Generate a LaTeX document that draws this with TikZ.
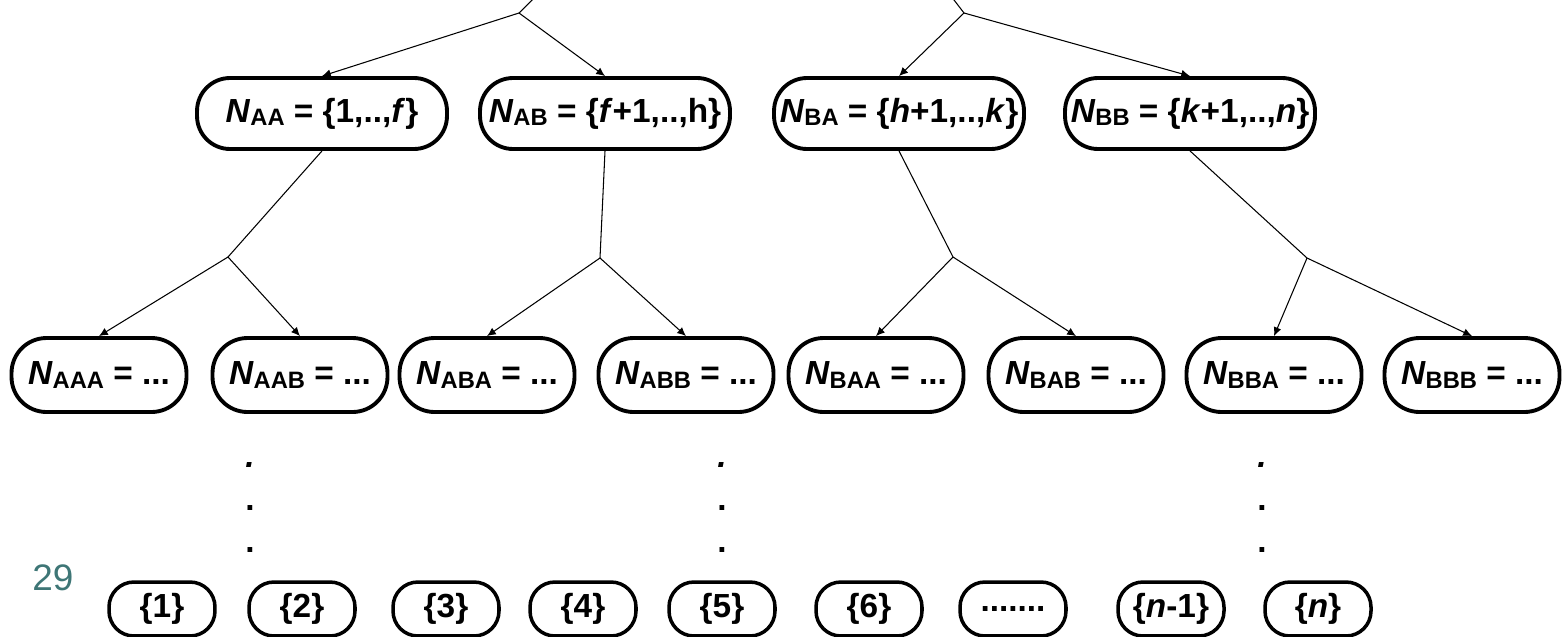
\documentclass[tikz,border=0pt]{standalone}
\usepackage{fontspec}
\setmainfont{Liberation Sans}
\usetikzlibrary{arrows.meta}
\definecolor{slidenum}{RGB}{62,118,118}
% italic N with a lowered upright index
\newcommand{\setN}[1]{\textit{N}\raisebox{-0.2ex}{\fontsize{13.5}{13.5}\selectfont #1}}

\begin{document}
\begin{tikzpicture}[x=0.02cm,y=-0.02cm,
    set/.style={draw, line width=2.2pt, rounded corners=0.66cm, minimum height=1.42cm,
                minimum width=5cm, inner sep=0pt, font=\fontsize{19}{23}\selectfont\bfseries},
    subset/.style={set, rounded corners=0.7cm, minimum width=3.5cm, minimum height=1.48cm},
    leaf/.style={set, line width=2pt, rounded corners=0.5cm, minimum width=2.12cm, minimum height=1.08cm},
    dot/.style={anchor=base, inner sep=0pt, font=\fontsize{19}{23}\selectfont\bfseries},
    tree/.style={line width=0.6pt},
    tip/.style={-{Latex[length=5pt,width=4.5pt]}}]
    \useasboundingbox (0,0) rectangle (1564,636);
    \clip (0,0) rectangle (1564,636);

    % second level
    \node[set](NAA) at (322,113.5)  {\setN{AA} = \{1,..,\textit{f}\}};
    \node[set](NAB) at (605,113.5)  {\setN{AB} = \{\textit{f}+1,..,h\}};
    \node[set](NBA) at (899,113.5)  {\setN{BA} = \{\textit{h}+1,..,\textit{k}\}};
    \node[set](NBB) at (1190,113.5) {\setN{BB} = \{\textit{k}+1,..,\textit{n}\}};

    % third level
    \node[subset](NAAA) at (99,375)   {\setN{AAA} = ...};
    \node[subset](NAAB) at (300,375)  {\setN{AAB} = ...};
    \node[subset](NABA) at (487,375)  {\setN{ABA} = ...};
    \node[subset](NABB) at (686,375)  {\setN{ABB} = ...};
    \node[subset](NBAA) at (876,375)  {\setN{BAA} = ...};
    \node[subset](NBAB) at (1076,375) {\setN{BAB} = ...};
    \node[subset](NBBA) at (1274,375) {\setN{BBA} = ...};
    \node[subset](NBBB) at (1472,375) {\setN{BBB} = ...};

    % singletons
    \node[leaf](L1)  at (162,609)  {\{1\}};
    \node[leaf](L2)  at (302,609)  {\{2\}};
    \node[leaf](L3)  at (446,609)  {\{3\}};
    \node[leaf](L4)  at (583,609)  {\{4\}};
    \node[leaf](L5)  at (722,609)  {\{5\}};
    \node[leaf](L6)  at (869,609)  {\{6\}};
    \node[leaf](Lx)  at (1013,609) {.......};
    \node[leaf](Ln1) at (1171,609) {\{\textit{n}-1\}};
    \node[leaf](Ln)  at (1318,609) {\{\textit{n}\}};

    \node[text=slidenum, font=\fontsize{21}{25}\selectfont](pagenum) at (53,578) {29};

    % vertical dots
    \foreach \col/\x in {dl/250, dm/722, dr/1262} {
        \node[dot](\col1) at (\x,467) {\textit{.}};
        \node[dot](\col2) at (\x,510) {.};
        \node[dot](\col3) at (\x,552) {.};
    }

    % branching points
    \coordinate (fromA) at (545,-13);
    \coordinate (fromB) at (944,-13);
    \coordinate (sA)  at (519,13);
    \coordinate (sB)  at (964,13);
    \coordinate (sAA) at (228,257);
    \coordinate (sAB) at (600,258);
    \coordinate (sBA) at (953,257);
    \coordinate (sBB) at (1307,258);

    \draw[tree] (fromA) -- (sA);
    \draw[tree] (fromB) -- (sB);
    \draw[tree] (NAA.south) -- (sAA);
    \draw[tree] (NAB.south) -- (sAB);
    \draw[tree] (NBA.south) -- (sBA);
    \draw[tree] (NBB.south) -- (sBB);
    \path[tree]
        (sA)  edge [tip] (NAA.north)
              edge [tip] (NAB.north)
        (sB)  edge [tip] (NBA.north)
              edge [tip] (NBB.north)
        (sAA) edge [tip] (NAAA.north)
              edge [tip] (NAAB.north)
        (sAB) edge [tip] (NABA.north)
              edge [tip] (NABB.north)
        (sBA) edge [tip] (NBAA.north)
              edge [tip] (NBAB.north)
        (sBB) edge [tip] (NBBA.north)
              edge [tip] (NBBB.north)
        ;
\end{tikzpicture}
\end{document}
